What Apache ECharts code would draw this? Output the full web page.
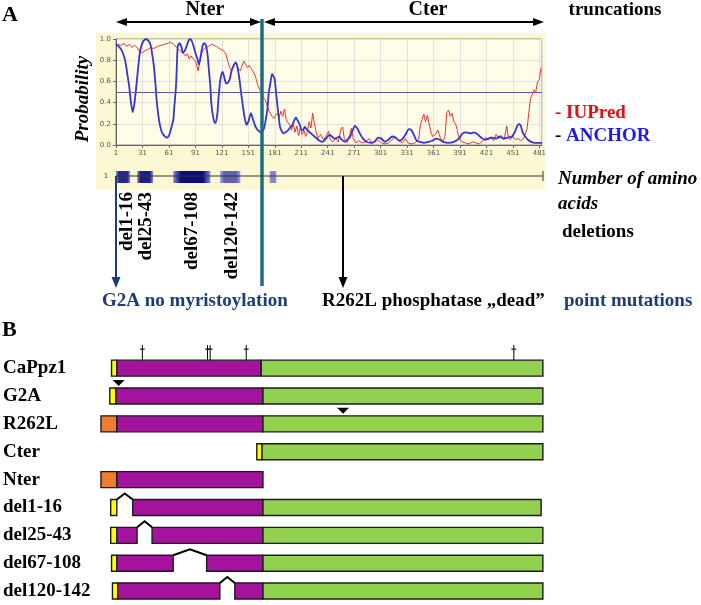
<!DOCTYPE html>
<html>
<head>
<meta charset="utf-8">
<title>CaPpz1 disorder prediction and constructs</title>
<script src="https://cdn.jsdelivr.net/npm/echarts@6/dist/echarts.min.js"></script>
<style>
  html, body { margin: 0; padding: 0; background: #fff; }
  #main { width: 701px; height: 605px; }
</style>
</head>
<body>
<div id="main"></div>
<script>
// ---- panel A: disorder prediction, [residue, probability] ----
var iupred = [
  [1,0.93],[4,0.95],[7,0.94],[10,0.96],[13,0.93],[16,0.95],[19,0.92],[22,0.94],[25,0.92],[28,0.88],
  [31,0.87],[34,0.89],[37,0.9],[40,0.92],[44,0.91],[48,0.93],[52,0.94],[56,0.95],[60,0.96],[63,0.97],
  [66,0.95],[69,0.93],[72,0.9],[75,0.88],[78,0.86],[80,0.84],[82,0.86],[84,0.81],[86,0.84],[88,0.82],
  [90,0.8],[92,0.77],[94,0.7],[96,0.78],[98,0.86],[100,0.9],[103,0.92],[106,0.93],[109,0.95],[112,0.94],
  [115,0.93],[118,0.91],[121,0.9],[124,0.88],[126,0.85],[128,0.78],[130,0.73],[132,0.7],[134,0.73],[136,0.78],
  [138,0.76],[140,0.72],[142,0.7],[144,0.75],[146,0.79],[148,0.76],[150,0.73],[152,0.75],[154,0.72],[156,0.7],
  [158,0.67],[160,0.62],[162,0.56],[164,0.52],[166,0.49],[168,0.45],[170,0.43],[172,0.38],[174,0.33],[176,0.3],
  [178,0.27],[180,0.25],[182,0.28],[184,0.3],[186,0.26],[188,0.32],[190,0.27],[192,0.34],[194,0.24],[196,0.21],
  [198,0.19],[200,0.14],[202,0.2],[204,0.12],[206,0.18],[208,0.09],[210,0.16],[212,0.1],[214,0.14],[216,0.08],
  [218,0.12],[220,0.22],[222,0.16],[224,0.3],[226,0.2],[228,0.12],[230,0.06],[233,0.1],[236,0.05],[239,0.08],
  [242,0.13],[244,0.05],[247,0.03],[250,0.06],[253,0.03],[256,0.15],[258,0.17],[260,0.05],[263,0.02],[266,0.1],
  [268,0.16],[270,0.06],[273,0.02],[276,0.04],[280,0.02],[284,0.03],[288,0.06],[291,0.02],[295,0.03],[298,0.05],
  [302,0.02],[306,0.01],[310,0.02],[314,0.05],[318,0.07],[322,0.04],[326,0.02],[329,0.06],[332,0.02],[336,0.01],
  [340,0.02],[344,0.05],[346,0.18],[348,0.24],[350,0.29],[352,0.22],[354,0.28],[356,0.2],[358,0.12],[360,0.08],
  [363,0.1],[366,0.14],[369,0.06],[372,0.04],[374,0.08],[376,0.3],[378,0.33],[380,0.27],[382,0.3],[384,0.22],
  [386,0.2],[388,0.14],[390,0.06],[393,0.03],[397,0.02],[401,0.01],[405,0.03],[409,0.02],[413,0.01],[417,0.04],
  [420,0.07],[423,0.05],[426,0.08],[429,0.04],[432,0.1],[435,0.06],[438,0.09],[441,0.05],[444,0.18],[446,0.07],
  [448,0.05],[451,0.08],[454,0.05],[457,0.06],[460,0.04],[463,0.06],[465,0.05],[467,0.15],[469,0.3],[471,0.44],
  [473,0.48],[475,0.52],[477,0.5],[479,0.6],[481,0.62],[483,0.73]
];
var anchor = [
  [1,0.95],[4,0.93],[7,0.9],[10,0.84],[12,0.77],[14,0.66],[16,0.55],[18,0.4],[20,0.31],[22,0.4],
  [24,0.55],[26,0.72],[28,0.87],[30,0.94],[32,0.98],[35,1.0],[38,0.98],[40,0.95],[42,0.86],[44,0.74],
  [46,0.55],[47,0.43],[49,0.28],[51,0.18],[53,0.12],[55,0.095],[57,0.075],[59,0.07],[61,0.09],[62,0.11],
  [64,0.17],[66,0.24],[67,0.35],[69,0.55],[70,0.75],[71,0.93],[73,0.96],[75,0.93],[77,0.87],[79,0.89],
  [81,0.93],[83,0.98],[85,1.0],[87,0.98],[89,0.93],[91,0.87],[93,0.82],[95,0.76],[97,0.84],[99,0.93],
  [101,0.96],[103,0.94],[105,0.84],[106,0.74],[108,0.55],[109,0.4],[111,0.27],[113,0.21],[114,0.21],[116,0.3],
  [117,0.42],[119,0.6],[121,0.68],[122,0.69],[124,0.63],[126,0.58],[128,0.59],[130,0.62],[132,0.7],[135,0.76],
  [137,0.78],[139,0.72],[141,0.62],[143,0.48],[145,0.36],[147,0.25],[149,0.19],[151,0.22],[153,0.28],[154,0.3],
  [156,0.25],[158,0.2],[160,0.16],[163,0.13],[165,0.12],[167,0.13],[169,0.16],[171,0.25],[173,0.36],[174,0.48],
  [176,0.58],[178,0.67],[180,0.64],[181,0.62],[183,0.45],[185,0.3],[187,0.17],[189,0.13],[191,0.11],[193,0.12],
  [195,0.13],[198,0.16],[201,0.19],[203,0.23],[205,0.26],[207,0.23],[209,0.2],[211,0.15],[213,0.14],[215,0.17],
  [218,0.14],[222,0.11],[226,0.08],[230,0.05],[235,0.03],[239,0.06],[243,0.095],[246,0.08],[249,0.06],[252,0.07],
  [254,0.08],[257,0.05],[260,0.03],[263,0.05],[266,0.07],[269,0.13],[272,0.18],[275,0.15],[278,0.1],[281,0.06],
  [285,0.03],[290,0.02],[294,0.03],[298,0.07],[302,0.06],[306,0.03],[310,0.05],[314,0.08],[318,0.07],[322,0.04],
  [326,0.06],[330,0.11],[333,0.15],[336,0.14],[339,0.09],[342,0.04],[346,0.03],[350,0.02],[355,0.03],[360,0.04],
  [364,0.06],[368,0.05],[372,0.03],[378,0.02],[384,0.03],[390,0.06],[394,0.11],[398,0.12],[403,0.11],[407,0.12],
  [411,0.1],[415,0.07],[419,0.05],[423,0.06],[428,0.07],[432,0.06],[436,0.08],[440,0.06],[445,0.07],[450,0.08],
  [453,0.12],[456,0.18],[458,0.2],[460,0.18],[462,0.12],[465,0.08],[468,0.05],[472,0.03],[476,0.02],[480,0.02],
  [484,0.02]
];
var threshold = 0.5;
// ANCHOR binding regions shown in the strip: [from, to, intensity]
var bindingRegions = [[1, 17, 0.85], [25, 43, 0.9], [66, 108, 1.0], [119, 142, 0.55], [175, 183, 0.35]];

// ---- panel B: constructs ----
var constructs = ['CaPpz1', 'G2A', 'R262L', 'Cter', 'Nter', 'del1-16', 'del25-43', 'del67-108', 'del120-142'];
// [construct, from, to, kind]
var segments = [
  ['CaPpz1', -5, 1, 'yellow'], ['CaPpz1', 1, 165, 'N'], ['CaPpz1', 165, 485, 'C'],
  ['G2A', -7, 0, 'yellow'], ['G2A', 0, 167, 'N'], ['G2A', 167, 485, 'C'],
  ['R262L', -17, 1, 'orange'], ['R262L', 1, 167, 'N'], ['R262L', 167, 485, 'C'],
  ['Cter', 160, 166, 'yellow'], ['Cter', 166, 485, 'C'],
  ['Nter', -17, 1, 'orange'], ['Nter', 1, 167, 'N'],
  ['del1-16', -6, 1, 'yellow'], ['del1-16', 19, 167, 'N'], ['del1-16', 167, 483, 'C'],
  ['del25-43', -6, 1, 'yellow'], ['del25-43', 1, 24, 'N'], ['del25-43', 41, 167, 'N'], ['del25-43', 167, 485, 'C'],
  ['del67-108', -5, 1, 'yellow'], ['del67-108', 1, 65, 'N'], ['del67-108', 103, 167, 'N'], ['del67-108', 167, 485, 'C'],
  ['del120-142', -4, 2, 'yellow'], ['del120-142', 2, 118, 'N'], ['del120-142', 135, 167, 'N'], ['del120-142', 167, 485, 'C']
];
var deletions = [['del1-16', 1, 19], ['del25-43', 24, 41], ['del67-108', 65, 103], ['del120-142', 118, 135]];
var mutations = [['G2A', 3], ['R262L', 258]];
var daggers = [['CaPpz1', 30], ['CaPpz1', 104], ['CaPpz1', 107], ['CaPpz1', 148], ['CaPpz1', 452]];

var kindColor = { yellow: '#ffff00', orange: '#ed7d31', N: '#a3139c', C: '#92d050' };
var serif = 'Liberation Serif';
var barH = 16;

function rowOf(name) { return constructs.indexOf(name); }

var chart = echarts.init(document.getElementById('main'));

function txt(x, y, s, size, color, opts) {
  opts = opts || {};
  return {
    type: 'text', x: x, y: y, z: 50, rotation: opts.rotation || 0,
    style: {
      text: s, fill: color,
      font: (opts.italic ? 'italic ' : '') + 'bold ' + size + 'px "' + serif + '"',
      textAlign: opts.align || 'left', align: opts.align || 'left',
      textVerticalAlign: 'middle', verticalAlign: 'middle'
    }
  };
}
function hLine(x1, x2, y, color, w) {
  return { type: 'line', z: 50, shape: { x1: x1, y1: y, x2: x2, y2: y }, style: { stroke: color, lineWidth: w } };
}
function vLine(x, y1, y2, color, w) {
  return { type: 'line', z: 50, shape: { x1: x, y1: y1, x2: x, y2: y2 }, style: { stroke: color, lineWidth: w } };
}
function head(pts, color) {
  return { type: 'polygon', z: 51, shape: { points: pts }, style: { fill: color } };
}

var graphics = [
  // pale yellow panel behind the prediction plot
  { type: 'rect', z: -10, shape: { x: 96, y: 33, width: 449, height: 157 }, style: { fill: '#fbf8d3' } },
  txt(2, 15, 'A', 22, '#000'),
  txt(205, 10, 'Nter', 20, '#000', { align: 'center' }),
  txt(428, 10, 'Cter', 20, '#000', { align: 'center' }),
  txt(615, 10, 'truncations', 19, '#000', { align: 'center' }),
  // truncation arrows
  hLine(120, 258, 22, '#000', 2),
  head([[116, 22], [127, 18], [127, 26]], '#000'),
  head([[261, 22], [250, 18], [250, 26]], '#000'),
  hLine(267, 539, 22, '#000', 2),
  head([[264, 22], [275, 18], [275, 26]], '#000'),
  head([[544, 22], [533, 18], [533, 26]], '#000'),
  // Nter / Cter border
  vLine(262, 19, 286, '#1b6e80', 3.5),
  txt(83, 99, 'Probability', 19, '#000', { italic: true, align: 'center', rotation: Math.PI / 2 }),
  txt(555, 113, '- IUPred', 19, '#e0101a'),
  txt(555, 136, '-', 19, '#000'),
  txt(566, 136, 'ANCHOR', 19, '#1d1de0'),
  // residue strip
  { type: 'text', x: 106, y: 176, z: 50, style: { text: '1', fill: '#444', font: '7px "DejaVu Sans"', textAlign: 'center', align: 'center', textVerticalAlign: 'middle', verticalAlign: 'middle' } },
  hLine(116, 543, 176, '#333', 1),
  vLine(543, 171, 181, '#333', 1),
  txt(558, 179, 'Number of amino', 19, '#000', { italic: true }),
  txt(558, 204, 'acids', 19, '#000', { italic: true }),
  txt(562, 232, 'deletions', 19, '#000'),
  txt(127, 192, 'del1-16', 19, '#000', { align: 'right', rotation: Math.PI / 2 }),
  txt(146, 192, 'del25-43', 19, '#000', { align: 'right', rotation: Math.PI / 2 }),
  txt(192, 192, 'del67-108', 19, '#000', { align: 'right', rotation: Math.PI / 2 }),
  txt(232, 192, 'del120-142', 19, '#000', { align: 'right', rotation: Math.PI / 2 }),
  // point mutation arrows
  vLine(116, 176, 280, '#1f3b78', 2),
  head([[116, 288], [111.5, 277], [120.5, 277]], '#1f3b78'),
  vLine(343, 176, 280, '#000', 2),
  head([[343, 288], [338.5, 277], [347.5, 277]], '#000'),
  txt(102, 301, 'G2A no myristoylation', 19, '#1f3b78'),
  txt(322, 301, 'R262L phosphatase \u201Edead\u201D', 19, '#000'),
  txt(564, 301, 'point mutations', 19, '#1f3b78'),
  txt(2, 330, 'B', 22, '#000')
];

function mixBlue(t) {
  var light = [200, 200, 248], dark = [12, 12, 124];
  var c = light.map(function (l, i) { return Math.round(l + (dark[i] - l) * t); });
  return 'rgb(' + c.join(',') + ')';
}

var option = {
  animation: false,
  backgroundColor: '#ffffff',
  graphic: { elements: graphics },
  grid: [
    { left: 116, top: 39, width: 426, height: 106, show: true, backgroundColor: '#fffde8', borderColor: '#8a8a8a', borderWidth: 1 },
    { left: 116, top: 171, width: 426, height: 12 },
    { left: 100.12, top: 354.2, width: 442.76, height: 252.3 }
  ],
  xAxis: [
    {
      gridIndex: 0, type: 'value', min: 0, max: 483, interval: 30,
      axisLine: { lineStyle: { color: '#666', width: 1 } },
      axisTick: { length: 3, lineStyle: { color: '#666' } },
      axisLabel: { fontSize: 7, color: '#555', fontFamily: 'DejaVu Sans', margin: 5, showMaxLabel: false,
        formatter: function (v) { return String(v + 1); } },
      splitLine: { show: true, lineStyle: { color: '#e0e0e0', width: 1 } }
    },
    { gridIndex: 1, type: 'value', min: 1, max: 484, show: false },
    { gridIndex: 2, type: 'value', min: -17, max: 485, show: false }
  ],
  yAxis: [
    {
      gridIndex: 0, type: 'value', min: 0, max: 1, interval: 0.2,
      axisLine: { show: true, lineStyle: { color: '#666', width: 1 } },
      axisTick: { show: true, length: 3, lineStyle: { color: '#666' } },
      axisLabel: { fontSize: 7, color: '#555', fontFamily: 'DejaVu Sans', margin: 5,
        formatter: function (v) { return v.toFixed(1); } },
      splitLine: { show: true, lineStyle: { color: '#e0e0e0', width: 1 } }
    },
    { gridIndex: 1, type: 'value', min: 0, max: 1, show: false },
    {
      gridIndex: 2, type: 'category', data: constructs, inverse: true,
      axisLine: { show: false }, axisTick: { show: false }, splitLine: { show: false },
      axisLabel: { align: 'left', margin: 98, color: '#000', fontFamily: serif, fontWeight: 'bold', fontSize: 19 }
    }
  ],
  series: [
    {
      name: 'IUPred', type: 'line', xAxisIndex: 0, yAxisIndex: 0, showSymbol: false, z: 3,
      data: iupred.map(function (p) { return [p[0] - 1, p[1]]; }),
      lineStyle: { color: '#e8352f', width: 1 }
    },
    {
      name: 'ANCHOR', type: 'line', xAxisIndex: 0, yAxisIndex: 0, showSymbol: false, z: 4, smooth: 0.25,
      data: anchor.map(function (p) { return [p[0] - 1, p[1]]; }),
      lineStyle: { color: '#3535cf', width: 1.8 },
      markLine: {
        silent: true, symbol: 'none', label: { show: false },
        lineStyle: { color: '#5a5aaa', width: 1.2, type: 'solid' },
        data: [{ yAxis: threshold }]
      }
    },
    {
      type: 'custom', xAxisIndex: 1, yAxisIndex: 1, z: 3,
      data: bindingRegions,
      encode: { x: [0, 1] },
      renderItem: function (params, api) {
        var a = api.coord([api.value(0), 1]);
        var b = api.coord([api.value(1), 0]);
        var core = mixBlue(api.value(2));
        var edge = mixBlue(api.value(2) * 0.35);
        return {
          type: 'rect',
          shape: { x: a[0], y: a[1], width: b[0] - a[0], height: b[1] - a[1] },
          style: {
            fill: new echarts.graphic.LinearGradient(0, 0, 1, 0, [
              { offset: 0, color: edge }, { offset: 0.2, color: core },
              { offset: 0.8, color: core }, { offset: 1, color: edge }
            ])
          }
        };
      }
    },
    {
      type: 'custom', xAxisIndex: 2, yAxisIndex: 2, z: 3,
      data: segments.map(function (s) { return [s[1], s[2], rowOf(s[0])]; }),
      encode: { x: [0, 1], y: 2 },
      renderItem: function (params, api) {
        var a = api.coord([api.value(0), api.value(2)]);
        var b = api.coord([api.value(1), api.value(2)]);
        return {
          type: 'rect',
          shape: { x: a[0], y: a[1] - barH / 2, width: b[0] - a[0], height: barH },
          style: { fill: kindColor[segments[params.dataIndex][3]], stroke: '#1b1b1b', lineWidth: 1.4 }
        };
      }
    },
    {
      type: 'custom', xAxisIndex: 2, yAxisIndex: 2, z: 4,
      data: deletions.map(function (d) { return [d[1], d[2], rowOf(d[0])]; }),
      encode: { x: [0, 1], y: 2 },
      renderItem: function (params, api) {
        var a = api.coord([api.value(0), api.value(2)]);
        var b = api.coord([api.value(1), api.value(2)]);
        var top = a[1] - barH / 2;
        return {
          type: 'polyline',
          shape: { points: [[a[0], top], [(a[0] + b[0]) / 2, top - 6], [b[0], top]] },
          style: { stroke: '#000', lineWidth: 2, fill: null }
        };
      }
    },
    {
      type: 'custom', xAxisIndex: 2, yAxisIndex: 2, z: 4,
      data: mutations.map(function (m) { return [m[1], rowOf(m[0])]; }),
      encode: { x: 0, y: 1 },
      renderItem: function (params, api) {
        var p = api.coord([api.value(0), api.value(1)]);
        var top = p[1] - barH / 2;
        return {
          type: 'polygon',
          shape: { points: [[p[0] - 6, top - 8], [p[0] + 6, top - 8], [p[0], top - 2]] },
          style: { fill: '#000' }
        };
      }
    },
    {
      type: 'custom', xAxisIndex: 2, yAxisIndex: 2, z: 4,
      data: daggers.map(function (d) { return [d[1], rowOf(d[0])]; }),
      encode: { x: 0, y: 1 },
      renderItem: function (params, api) {
        var p = api.coord([api.value(0), api.value(1)]);
        var top = p[1] - barH / 2;
        return {
          type: 'group',
          children: [
            { type: 'line', shape: { x1: p[0], y1: top, x2: p[0], y2: top - 15 }, style: { stroke: '#000', lineWidth: 1 } },
            { type: 'line', shape: { x1: p[0] - 2.5, y1: top - 11, x2: p[0] + 2.5, y2: top - 11 }, style: { stroke: '#000', lineWidth: 1 } }
          ]
        };
      }
    }
  ]
};

chart.setOption(option);
</script>
</body>
</html>
